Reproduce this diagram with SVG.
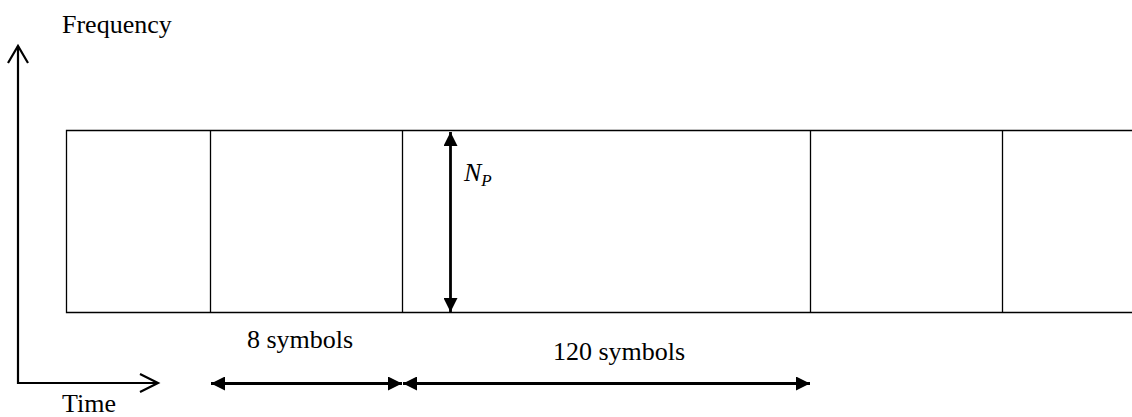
<svg xmlns="http://www.w3.org/2000/svg" width="1132" height="417" viewBox="0 0 1132 417">
<style>
.t{font-family:"Liberation Serif","Times New Roman",serif;font-size:26px;fill:#000}
.box{fill:none;stroke:#000;stroke-width:1.3}
.axis{fill:none;stroke:#000;stroke-width:2.2}
.dim{fill:none;stroke:#000;stroke-width:2.8}
</style>
<defs>
<marker id="ah" viewBox="0 0 10 10" refX="10" refY="5" markerWidth="5.5" markerHeight="5" markerUnits="strokeWidth" orient="auto-start-reverse">
<path d="M0,0 L10,5 L0,10 Z" fill="#000"/>
</marker>
</defs>
<g id="frame">
<path class="box" d="M1132,130.5 H66.5 V312.5 H1132"/>
<line class="box" x1="210.5" y1="130.5" x2="210.5" y2="312.5"/>
<line class="box" x1="402.5" y1="130.5" x2="402.5" y2="312.5"/>
<line class="box" x1="810.5" y1="130.5" x2="810.5" y2="312.5"/>
<line class="box" x1="1002.5" y1="130.5" x2="1002.5" y2="312.5"/>
</g>
<g id="axes">
<path class="axis" d="M18,46 V383 H158"/>
<path class="axis" d="M8,63 L18,46 L28,63"/>
<path class="axis" d="M140,374 L158,383 L140,392"/>
<text class="t" x="62" y="33">Frequency</text>
<text class="t" x="62" y="412">Time</text>
</g>
<g id="connectors">
<line class="dim" x1="450.5" y1="132" x2="450.5" y2="312" marker-start="url(#ah)" marker-end="url(#ah)"/>
<line class="dim" x1="211" y1="383.5" x2="402" y2="383.5" marker-start="url(#ah)" marker-end="url(#ah)"/>
<line class="dim" x1="403" y1="383.5" x2="810" y2="383.5" marker-start="url(#ah)" marker-end="url(#ah)"/>
</g>
<g id="labels">
<text class="t" x="464" y="181" font-style="italic">N<tspan font-size="17" dy="5">P</tspan></text>
<text class="t" x="247" y="348">8 symbols</text>
<text class="t" x="553" y="360">120 symbols</text>
</g>
</svg>
